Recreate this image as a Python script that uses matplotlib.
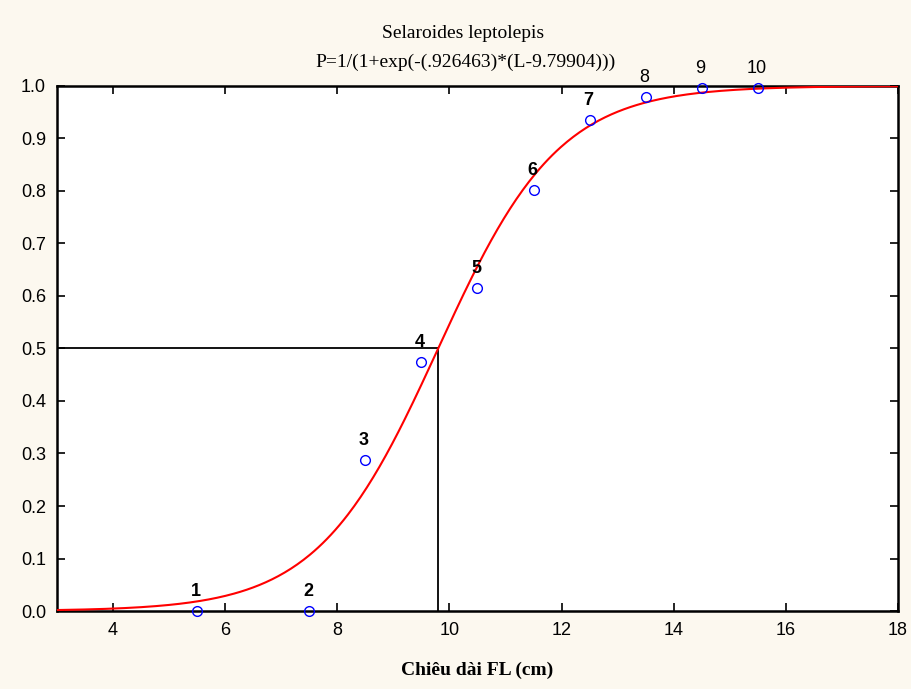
import numpy as np
import matplotlib.pyplot as plt

# Du lieu doc tu hinh
nhom = ['1', '2', '3', '4', '5', '6', '7', '8', '9', '10']
L_tb = [5.5, 7.5, 8.5, 9.5, 10.5, 11.5, 12.5, 13.5, 14.5, 15.5]
ty_le = [0.0, 0.0, 0.288, 0.474, 0.615, 0.802, 0.935, 0.979, 0.996, 0.996]
dam = [True, True, True, True, True, True, True, False, False, False]

# He so cua duong logistic (theo tieu de)
a = 0.926463
L50 = 9.79904

bg = '#fcf8ef'
fig = plt.figure(figsize=(9.12, 6.89), dpi=100, facecolor=bg)
ax = fig.add_axes([0.0625, 0.1132, 0.9221, 0.762])
ax.set_facecolor('white')

L = np.linspace(3, 18, 400)
P = 1 / (1 + np.exp(-a * (L - L50)))
ax.plot(L, P, color='red', lw=1.5, zorder=3)

ax.plot(L_tb, ty_le, 'o', mfc='none', mec='blue', ms=7, mew=1, zorder=4, clip_on=False)

for ten, x, y, b in zip(nhom, L_tb, ty_le, dam):
    ax.annotate(ten, (x, y), xytext=(-1, 8), textcoords='offset points',
                ha='center', va='bottom', fontsize=13, family='Liberation Sans',
                fontweight='bold' if b else 'normal', annotation_clip=False)

# duong L50
ax.plot([3, L50], [0.5, 0.5], color='black', lw=1.3, zorder=2)
ax.plot([L50, L50], [0, 0.5], color='black', lw=1.3, zorder=2)

ax.set_xlim(3, 18)
ax.set_ylim(0, 1)
ax.set_xticks([4, 6, 8, 10, 12, 14, 16, 18])
ax.set_yticks(np.arange(0, 1.01, 0.1))
ax.set_yticklabels([f'{v:.1f}' for v in np.arange(0, 1.01, 0.1)])
ax.tick_params(direction='in', length=6, width=1.2, top=True, right=True,
               labelsize=13, pad=8)
for lab in ax.get_xticklabels() + ax.get_yticklabels():
    lab.set_family('Liberation Sans')
for s in ax.spines.values():
    s.set_linewidth(1.8)

ax.set_xlabel('Chiêu dài FL (cm)', family='Liberation Serif', fontweight='bold',
              fontsize=14, labelpad=16)
fig.text(0.508, 0.952, 'Selaroides leptolepis', family='Liberation Serif',
         fontsize=14, ha='center', va='center')
fig.text(0.51, 0.91, 'P=1/(1+exp(-(.926463)*(L-9.79904)))', family='Liberation Serif',
         fontsize=14, ha='center', va='center')

fig.savefig('out.png', dpi=100, facecolor=bg)
